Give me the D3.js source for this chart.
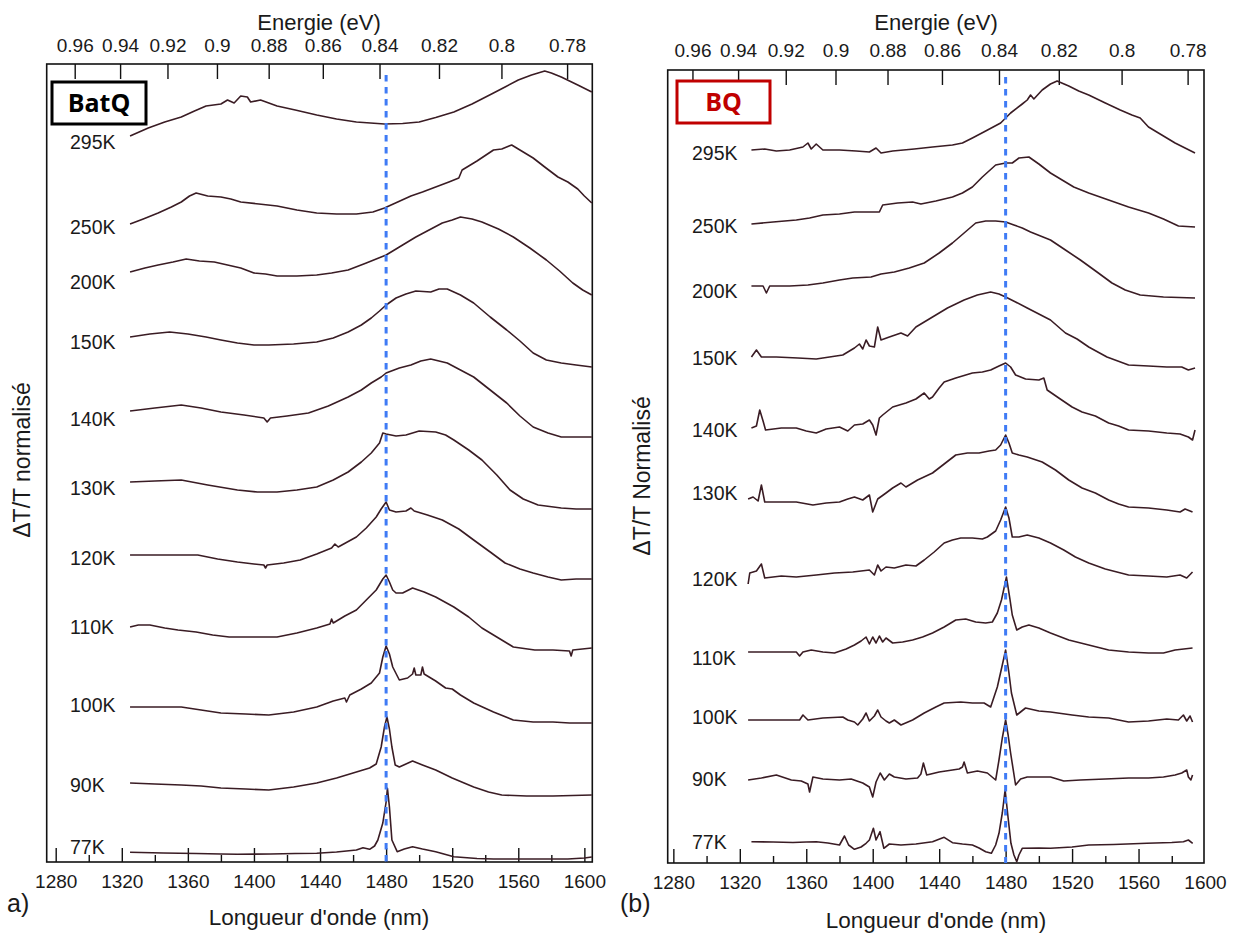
<!DOCTYPE html>
<html><head><meta charset="utf-8">
<script src="https://cdn.jsdelivr.net/npm/d3@7"></script>
<style>
body{margin:0;background:#fff}
svg{display:block}
text{font-family:"Liberation Sans",Arial,sans-serif;fill:#1a1a1a}
</style>
</head><body>
<svg id="c" width="1234" height="937"></svg>
<script>
// ---------- axis ticks ----------
const wavelengthTicks = [1280,1320,1360,1400,1440,1480,1520,1560,1600];
const wavelengthMinor = [1300,1340,1380,1420,1460,1500,1540,1580];
const energyTicks = [0.96,0.94,0.92,0.9,0.88,0.86,0.84,0.82,0.8,0.78];
const temperatures = ["295K","250K","200K","150K","140K","130K","120K","110K","100K","90K","77K"];
const markerWavelength = 1480;

// label levels (ΔT/T normalisé, décalé)
const batqLabelLevels = [72.0,63.5,58.0,52.0,44.3,37.4,30.4,23.5,15.7,7.7,1.5];
const bqLabelLevels = [71.0,63.7,57.2,50.5,43.3,37.0,28.4,20.5,14.6,8.4,2.1];

// ---------- BatQ spectra [wavelength nm, ΔT/T normalised + offset] ----------
const batq295 = [[1325,72.6],[1336,73.4],[1346,74.0],[1356,74.5],[1364,75.1],[1371,75.6],[1380,75.8],[1384,76.2],[1388,75.9],[1392,76.6],[1396,76.5],[1398,76.0],[1404,76.2],[1414,75.6],[1425,75.2],[1438,74.7],[1450,74.3],[1462,74.0],[1479,73.8],[1490,73.85],[1500,74.0],[1510,74.45],[1521,75.0],[1532,75.8],[1545,76.9],[1552,77.5],[1560,78.2],[1568,78.7],[1576,79.1],[1580,78.9],[1586,78.5],[1596,77.7],[1604.5,77.0]];
const batq250 = [[1325,63.8],[1333,64.3],[1342,64.9],[1350,65.5],[1356,66.0],[1361,66.6],[1365,66.9],[1372,66.6],[1380,66.5],[1386,66.3],[1392,66.0],[1403,65.8],[1414,65.6],[1426,65.2],[1438,64.9],[1450,64.8],[1462,64.8],[1472,65.0],[1479,65.4],[1487,66.0],[1495,66.6],[1502,67.0],[1510,67.5],[1518,68.0],[1524,68.4],[1526,69.2],[1535,70.1],[1545,71.2],[1550,71.3],[1556,71.7],[1562,71.1],[1569,70.4],[1576,69.5],[1584,68.5],[1590,68.0],[1596,67.3],[1600,66.6],[1604.5,65.9]];
const batq200 = [[1325,59.0],[1334,59.4],[1342,59.7],[1351,60.0],[1359,60.3],[1367,60.1],[1376,60.0],[1384,59.7],[1392,59.4],[1400,58.9],[1407,58.8],[1414,58.6],[1426,58.6],[1438,58.7],[1447,58.9],[1457,59.2],[1468,59.9],[1480,60.7],[1489,61.6],[1498,62.5],[1506,63.2],[1514,63.9],[1520,64.2],[1525,64.5],[1532,64.3],[1538,64.0],[1548,63.3],[1557,62.5],[1567,61.4],[1577,60.2],[1585,59.1],[1593,57.9],[1599,57.2],[1604.5,56.7]];
const batq150 = [[1325,52.5],[1337,52.8],[1349,53.0],[1360,52.8],[1371,52.5],[1380,52.2],[1390,51.9],[1400,51.7],[1409,51.7],[1424,51.8],[1438,52.0],[1448,52.4],[1457,53.0],[1465,53.7],[1471,54.4],[1476,55.1],[1480,55.7],[1486,56.4],[1492,56.8],[1498,57.1],[1507,57.0],[1512,57.3],[1517,57.3],[1525,56.7],[1533,55.9],[1543,54.5],[1553,53.2],[1561,52.1],[1569,50.9],[1577,50.2],[1586,49.9],[1595,49.7],[1604.5,49.5]];
const batq140 = [[1325,45.1],[1340,45.4],[1356,45.7],[1368,45.4],[1380,45.0],[1394,44.7],[1406,44.4],[1408,44.0],[1410,44.4],[1420,44.6],[1433,44.9],[1445,45.6],[1457,46.5],[1465,47.2],[1471,47.9],[1477,48.5],[1480,48.9],[1488,49.4],[1495,49.7],[1501,50.1],[1507,50.3],[1512,50.1],[1517,49.9],[1525,49.2],[1533,48.5],[1543,47.2],[1553,45.9],[1561,44.6],[1569,43.5],[1578,42.9],[1586,42.5],[1595,42.5],[1604.5,42.5]];
const batq130 = [[1325,38.0],[1340,38.1],[1356,38.2],[1372,37.7],[1390,37.2],[1402,37.0],[1414,37.0],[1426,37.2],[1438,37.5],[1448,38.2],[1457,39.0],[1465,40.0],[1471,40.9],[1476,41.9],[1478,42.9],[1480,42.8],[1486,42.6],[1492,42.7],[1500,43.1],[1510,43.0],[1516,42.7],[1521,42.2],[1530,41.2],[1538,40.2],[1547,38.7],[1555,37.2],[1563,36.3],[1572,35.7],[1586,35.4],[1595,35.3],[1604.5,35.3]];
const batq120 = [[1325,30.7],[1345,30.7],[1366,30.7],[1378,30.3],[1390,30.0],[1400,29.8],[1406,29.7],[1407,29.4],[1408,29.7],[1418,29.9],[1428,30.2],[1438,30.8],[1447,31.4],[1449,31.8],[1451,31.5],[1462,32.5],[1468,33.4],[1474,34.5],[1477,35.3],[1480,36.0],[1482,35.2],[1486,35.0],[1492,35.1],[1495,35.4],[1497,35.1],[1505,34.7],[1514,34.2],[1524,33.3],[1533,32.2],[1543,31.0],[1552,29.9],[1561,29.3],[1569,28.9],[1578,28.5],[1586,28.2],[1595,28.3],[1604.5,28.3]];
const batq110 = [[1325,23.5],[1330,23.7],[1337,23.7],[1346,23.4],[1354,23.2],[1365,23.0],[1375,22.7],[1385,22.5],[1400,22.5],[1414,22.5],[1426,22.9],[1438,23.4],[1446,23.8],[1447,24.3],[1448,23.9],[1455,24.6],[1462,25.2],[1468,26.2],[1474,27.2],[1478,28.3],[1480,28.7],[1482,28.0],[1484,27.2],[1486,26.9],[1490,26.9],[1496,27.4],[1503,27.0],[1510,26.5],[1521,25.5],[1530,24.5],[1538,23.4],[1548,22.4],[1557,21.5],[1570,21.2],[1581,21.2],[1591,21.1],[1592,20.6],[1593,21.2],[1604.5,21.4]];
const batq100 = [[1325,15.5],[1340,15.5],[1356,15.5],[1368,15.2],[1380,14.9],[1395,14.8],[1409,14.7],[1424,15.0],[1438,15.5],[1448,16.1],[1455,16.4],[1456,16.0],[1458,16.7],[1465,17.3],[1471,17.9],[1476,18.9],[1478,20.5],[1480,21.6],[1482,20.8],[1484,19.5],[1488,18.2],[1493,18.4],[1496,18.8],[1497,19.4],[1498,18.7],[1501,18.7],[1502,19.5],[1503,18.8],[1510,18.1],[1516,17.4],[1520,17.3],[1525,16.7],[1533,15.9],[1545,15.0],[1557,14.2],[1569,14.0],[1581,14.0],[1591,13.9],[1604.5,13.9]];
const batq90 = [[1325,7.9],[1340,7.8],[1356,7.7],[1368,7.6],[1380,7.4],[1395,7.3],[1409,7.2],[1424,7.5],[1438,7.9],[1450,8.4],[1462,9.0],[1470,9.4],[1474,9.8],[1477,11.5],[1479,13.5],[1480.5,14.5],[1482,13.3],[1483.5,11.5],[1485.5,9.7],[1488,9.5],[1492,9.8],[1496,10.1],[1502,9.7],[1510,9.2],[1520,8.4],[1533,7.5],[1542,7.0],[1550,6.7],[1565,6.6],[1581,6.6],[1604.5,6.7]];
const batq77 = [[1325,0.97],[1345,0.9],[1365,0.85],[1380,0.8],[1390,0.77],[1410,0.8],[1425,0.85],[1438,0.87],[1450,1.0],[1462,1.2],[1466,1.43],[1470,1.27],[1473,1.6],[1475,2.2],[1478,3.9],[1480,6.0],[1480.8,7.37],[1482,5.5],[1483.5,2.2],[1486.7,1.03],[1491,1.3],[1496,1.53],[1502,1.3],[1510,1.03],[1521,0.53],[1535,0.35],[1545,0.3],[1570,0.3],[1590,0.3],[1600,0.4],[1604.5,0.5]];

// ---------- BQ spectra ----------
const bq295 = [[1327,71.3],[1335,71.4],[1342,71.2],[1350,71.3],[1358,71.6],[1361,72.0],[1363,71.4],[1366,71.9],[1370,71.3],[1380,71.3],[1390,71.2],[1398,71.1],[1402,71.5],[1405,71.0],[1412,71.2],[1425,71.4],[1436,71.6],[1448,71.8],[1454,72.0],[1460,72.5],[1468,73.2],[1477,74.0],[1483,75.0],[1490,75.9],[1493,76.3],[1495,76.8],[1497,76.4],[1502,77.3],[1507,77.9],[1511,78.2],[1518,77.7],[1524,77.2],[1530,76.8],[1540,76.0],[1549,75.3],[1556,74.8],[1561,74.5],[1566,73.6],[1574,72.8],[1582,72.0],[1588,71.5],[1594,71.0]];
const bq250 = [[1327,63.9],[1340,64.1],[1354,64.3],[1362,64.5],[1370,64.8],[1380,64.9],[1389,65.1],[1397,65.1],[1404,65.1],[1406,65.8],[1415,66.0],[1424,66.1],[1429,65.9],[1438,66.2],[1448,66.6],[1454,67.0],[1460,67.6],[1466,68.6],[1474,69.8],[1480,70.0],[1484,70.0],[1488,70.5],[1494,70.6],[1500,69.9],[1507,69.0],[1514,68.3],[1521,67.6],[1530,67.0],[1542,66.3],[1554,65.6],[1566,65.0],[1575,64.4],[1584,63.7],[1594,63.6]];
const bq200 = [[1327,57.7],[1334,57.7],[1336,57.0],[1338,57.7],[1350,57.7],[1361,57.8],[1370,58.0],[1380,58.3],[1388,58.5],[1399,58.6],[1405,58.9],[1413,59.1],[1422,59.5],[1431,60.0],[1440,61.0],[1448,62.0],[1455,63.0],[1462,64.0],[1468,64.2],[1474,64.2],[1480,64.1],[1485,63.8],[1490,63.5],[1495,63.1],[1507,62.3],[1516,61.3],[1525,60.3],[1535,59.1],[1544,58.0],[1552,57.3],[1561,56.8],[1575,56.6],[1594,56.5]];
const bq150 = [[1327,50.6],[1330,51.3],[1333,50.6],[1342,50.6],[1355,50.5],[1366,50.4],[1374,50.6],[1382,50.8],[1386,51.2],[1389,51.5],[1392,51.9],[1394,51.4],[1396,52.3],[1398,51.7],[1401,51.6],[1403,53.6],[1405,52.3],[1410,52.6],[1417,53.0],[1421,52.7],[1426,53.6],[1436,54.6],[1445,55.5],[1455,56.3],[1463,56.8],[1471,57.1],[1476,56.9],[1480,56.6],[1486,56.1],[1493,55.5],[1500,54.9],[1507,54.3],[1516,53.0],[1523,52.4],[1530,51.6],[1541,50.6],[1554,49.8],[1566,49.7],[1577,49.6],[1586,49.6],[1590,49.3],[1594,49.5]];
const bq140 = [[1327,43.5],[1330,43.7],[1332,45.3],[1334,44.2],[1335.5,43.3],[1345,43.5],[1354,43.5],[1360,43.2],[1366,43.0],[1372,43.4],[1380,43.6],[1385,43.2],[1389,43.8],[1394,43.9],[1398,44.3],[1400,43.8],[1402,42.8],[1404,44.5],[1406,44.8],[1412,45.6],[1420,46.0],[1426,46.4],[1431,47.0],[1434,46.4],[1436,46.6],[1440,47.5],[1443,48.1],[1450,48.5],[1460,49.0],[1466,49.1],[1471,49.3],[1476,49.7],[1480,50.0],[1483,49.6],[1486,48.8],[1492,48.4],[1500,48.3],[1503,48.5],[1505,47.3],[1512,46.5],[1520,45.6],[1526,45.1],[1534,44.7],[1542,44.0],[1548,43.7],[1554,43.3],[1566,43.2],[1577,43.0],[1585,42.9],[1590,42.6],[1592.5,42.3],[1594,43.3]];
const bq130 = [[1325,36.4],[1328,36.6],[1331,36.2],[1333,37.8],[1335,36.1],[1345,36.1],[1354,36.1],[1364,35.8],[1372,36.0],[1380,36.1],[1385,36.4],[1389,36.6],[1394,36.3],[1398,36.8],[1400,35.1],[1403,36.4],[1408,37.0],[1412,37.5],[1417,38.0],[1420,37.6],[1427,38.3],[1436,39.0],[1443,39.9],[1450,40.8],[1457,41.0],[1464,41.0],[1470,41.2],[1474,41.3],[1477,41.8],[1480,42.8],[1482,42.0],[1484,41.0],[1488,40.8],[1493,40.6],[1502,40.1],[1510,39.3],[1518,38.3],[1526,37.5],[1534,37.0],[1542,36.3],[1548,35.9],[1554,35.6],[1566,35.5],[1577,35.3],[1585,35.1],[1588,35.4],[1592.5,35.1]];
const bq120 = [[1325,27.9],[1326,29.0],[1330,29.2],[1333,29.9],[1335,28.5],[1345,28.7],[1354,28.6],[1366,28.8],[1377,29.0],[1388,29.1],[1398,29.3],[1401,28.8],[1403,29.8],[1405,29.2],[1408,29.6],[1413,29.5],[1420,29.8],[1426,29.7],[1431,30.3],[1437,31.1],[1443,32.0],[1448,32.3],[1453,32.5],[1460,32.5],[1466,32.4],[1469,32.6],[1474,33.2],[1477,34.3],[1480,35.6],[1482,34.5],[1484,32.6],[1488,32.6],[1493,32.8],[1500,32.5],[1507,32.0],[1515,31.3],[1522,30.6],[1530,30.0],[1540,29.4],[1554,28.8],[1566,28.7],[1577,28.6],[1585,28.8],[1589,28.5],[1592.5,29.1]];
const bq110 = [[1325,21.1],[1340,21.1],[1354,21.1],[1356,20.7],[1358,21.1],[1363,21.3],[1370,21.1],[1377,21.0],[1384,21.4],[1389,21.8],[1393,22.2],[1396,22.6],[1398,21.9],[1400,22.6],[1402,22.0],[1404,22.7],[1406,22.1],[1408,22.5],[1412,22.0],[1418,22.1],[1424,22.3],[1430,22.6],[1436,23.0],[1443,23.6],[1450,24.3],[1456,24.4],[1462,24.1],[1468,24.0],[1472,24.1],[1475,25.0],[1477.5,26.3],[1480.5,28.6],[1482.5,26.5],[1484,24.8],[1486.7,23.3],[1490,23.6],[1494,23.8],[1500,23.5],[1507,23.0],[1518,22.3],[1530,21.8],[1542,21.3],[1554,21.1],[1566,21.0],[1575,21.0],[1582,21.3],[1592.5,21.5]];
const bq100 = [[1325,14.3],[1340,14.3],[1356,14.3],[1358,14.8],[1361,14.3],[1370,14.5],[1382,14.6],[1385,14.3],[1389,14.1],[1391,13.8],[1394,14.4],[1396,15.0],[1398,14.2],[1401,14.7],[1403,15.3],[1405,14.6],[1408,14.2],[1410,14.0],[1413,14.3],[1417,13.8],[1424,14.3],[1431,15.0],[1438,15.6],[1443,16.0],[1453,16.1],[1460,16.0],[1467,16.0],[1471,15.6],[1475,17.6],[1478,19.8],[1480,21.3],[1482,19.0],[1483.5,17.0],[1486.7,14.8],[1492,15.5],[1500,15.2],[1507,15.1],[1520,14.8],[1530,14.6],[1542,14.5],[1554,14.1],[1566,14.2],[1577,14.4],[1584,14.3],[1587,14.8],[1589,14.2],[1591,14.7],[1592.5,14.1]];
const bq90 = [[1325,8.3],[1333,8.5],[1342,8.8],[1351,8.3],[1357,8.2],[1361,7.9],[1362,7.1],[1364,8.6],[1370,8.4],[1380,8.3],[1387,8.4],[1394,8.0],[1398,7.6],[1400,6.6],[1402,8.1],[1404.5,9.0],[1407,8.3],[1410,8.9],[1413,8.6],[1420,8.4],[1427,8.5],[1429,8.9],[1430.5,10.0],[1432.5,8.8],[1440,9.1],[1448,9.3],[1452,9.4],[1454,9.6],[1455,10.1],[1457,9.0],[1463,9.2],[1469,9.0],[1474,8.3],[1476,10.3],[1478,12.5],[1480,14.3],[1481.5,12.8],[1483,11.0],[1486,7.8],[1489,8.4],[1493,8.6],[1500,8.6],[1507,8.6],[1515,8.2],[1525,8.3],[1540,8.4],[1554,8.5],[1566,8.5],[1575,8.6],[1582,8.8],[1586,9.0],[1589,9.3],[1590,8.6],[1591.5,8.3],[1592.5,8.8]];
const bq77 = [[1327,2.13],[1340,2.1],[1352,2.05],[1360,2.1],[1366,2.13],[1373,2.0],[1380,1.8],[1383,2.7],[1385.5,1.8],[1389,1.37],[1393,1.6],[1396,1.97],[1398,2.3],[1400.4,3.47],[1402,2.3],[1404.4,3.13],[1406.7,1.47],[1410,1.9],[1417,1.8],[1426,1.9],[1436,2.13],[1443,2.57],[1448,2.03],[1454,1.9],[1460,1.8],[1464,1.5],[1468,1.13],[1471.4,0.97],[1474,1.8],[1476,2.97],[1478,5.0],[1479.7,7.3],[1481.5,4.5],[1483.2,1.97],[1485,0.8],[1486.7,0.13],[1488,0.8],[1490,1.47],[1500,1.5],[1507,1.47],[1520,1.6],[1530,1.8],[1545,1.85],[1565,1.97],[1580,2.05],[1587,2.13],[1590,2.3],[1592.6,1.97]];

const batqSeries = [batq295,batq250,batq200,batq150,batq140,batq130,batq120,batq110,batq100,batq90,batq77];
const bqSeries = [bq295,bq250,bq200,bq150,bq140,bq130,bq120,bq110,bq100,bq90,bq77];

// ---------- drawing ----------
const HC = 1239.84; // eV·nm
const svg = d3.select("#c");
const defs = svg.append("defs");

function drawPanel(cfg) {
  const g = svg.append("g");
  const x = d3.scaleLinear().domain(cfg.xDomain).range([cfg.left, cfg.right]);
  const y = d3.scaleLinear().domain(cfg.yDomain).range([cfg.bottom, cfg.top]);

  defs.append("clipPath").attr("id", "clip-" + cfg.id).append("rect")
    .attr("x", cfg.left).attr("y", cfg.top)
    .attr("width", cfg.right - cfg.left).attr("height", cfg.bottom - cfg.top);

  // bottom axis
  const minorG = g.append("g").attr("transform", `translate(0,${cfg.bottom})`)
    .call(d3.axisBottom(x).tickValues(wavelengthMinor).tickSize(-7).tickSizeOuter(0).tickFormat(""));
  const majorG = g.append("g").attr("transform", `translate(0,${cfg.bottom})`)
    .call(d3.axisBottom(x).tickValues(wavelengthTicks).tickSize(-14).tickSizeOuter(0).tickPadding(13).tickFormat(d3.format("d")));
  // top axis (energy)
  const topG = g.append("g").attr("transform", `translate(0,${cfg.top})`)
    .call(d3.axisTop(x).tickValues(energyTicks.map(e => HC / e)).tickSize(-15).tickSizeOuter(0)
      .tickPadding(cfg.topPad).tickFormat((d, i) => String(energyTicks[i])));
  [minorG, majorG, topG].forEach(a => {
    a.select(".domain").remove();
    a.selectAll(".tick line").attr("stroke", "#111").attr("stroke-width", 1.4);
    a.selectAll(".tick text").style("font-family", '"Liberation Sans",Arial,sans-serif')
      .style("font-size", "19px").attr("fill", "#1a1a1a");
  });
  majorG.selectAll(".tick").filter(d => d > cfg.xDomain[1]).select("line").remove();

  // frame
  g.append("rect").attr("x", cfg.left).attr("y", cfg.top)
    .attr("width", cfg.right - cfg.left).attr("height", cfg.bottom - cfg.top)
    .attr("fill", "none").attr("stroke", "#111").attr("stroke-width", 1.6);

  // curves
  const line = d3.line().x(d => x(d[0])).y(d => y(d[1]));
  const cg = g.append("g").attr("clip-path", `url(#clip-${cfg.id})`);
  cg.selectAll("path.curve").data(cfg.series).join("path").attr("class", "curve")
    .attr("d", line).attr("fill", "none").attr("stroke", "#3a1c24")
    .attr("stroke-width", 1.6).attr("stroke-linejoin", "round");

  // dashed marker
  g.append("line").attr("x1", x(markerWavelength)).attr("x2", x(markerWavelength))
    .attr("y1", cfg.dashTop).attr("y2", cfg.bottom)
    .attr("stroke", "#3f7bf5").attr("stroke-width", 3).attr("stroke-dasharray", "6.5,5.5");

  // temperature labels
  g.selectAll("text.temp").data(temperatures).join("text").attr("class", "temp")
    .attr("x", cfg.labelX).attr("y", (d, i) => y(cfg.labelLevels[i])).attr("dy", "0.36em")
    .style("font-size", "19.5px").text(d => d);

  // legend box
  g.append("rect").attr("x", cfg.legend.x).attr("y", cfg.legend.y)
    .attr("width", cfg.legend.w).attr("height", cfg.legend.h)
    .attr("fill", "#fff").attr("stroke", cfg.legend.color).attr("stroke-width", 3);
  g.append("text").attr("x", cfg.legend.x + cfg.legend.w / 2).attr("y", cfg.legend.y + cfg.legend.h / 2)
    .attr("dy", "0.36em").attr("text-anchor", "middle")
    .style("font-family", '"Open Sans","Liberation Sans",sans-serif').style("font-weight", "bold")
    .style("font-size", "25px").style("fill", cfg.legend.color).text(cfg.legend.text);

  // titles
  g.append("text").attr("x", cfg.titleX).attr("y", 22).attr("dy", "0.36em").attr("text-anchor", "middle")
    .style("font-size", "22px").text("Energie (eV)");
  g.append("text").attr("x", cfg.titleX).attr("y", cfg.xTitleY).attr("dy", "0.36em").attr("text-anchor", "middle")
    .style("font-size", "22.5px").text("Longueur d'onde (nm)");
  g.append("text").attr("transform", `translate(${cfg.yTitleX},${cfg.yTitleY}) rotate(-90)`)
    .attr("text-anchor", "middle").attr("dy", "0.36em")
    .style("font-size", "23px").text(cfg.yTitle);
  g.append("text").attr("x", cfg.letterX).attr("y", 903).attr("dy", "0.36em")
    .style("font-size", "25px").text(cfg.letter);
}

drawPanel({
  id: "a", series: batqSeries, labelLevels: batqLabelLevels,
  xDomain: [1274.55, 1604.8], yDomain: [0, 79.8],
  left: 46.7, right: 592.3, top: 64, bottom: 862, topPad: 12, dashTop: 75,
  labelX: 70, titleX: 319, xTitleY: 917, yTitleX: 22, yTitleY: 460,
  yTitle: "ΔT/T normalisé", letter: "a)", letterX: 7,
  legend: {x: 52, y: 82, w: 94, h: 42, color: "#000", text: "BatQ"}
});
drawPanel({
  id: "b", series: bqSeries, labelLevels: bqLabelLevels,
  xDomain: [1276.6, 1599.4], yDomain: [0, 79.3],
  left: 667.7, right: 1204, top: 70, bottom: 863, topPad: 13, dashTop: 77,
  labelX: 692, titleX: 936, xTitleY: 920, yTitleX: 642, yTitleY: 476,
  yTitle: "ΔT/T Normalisé", letter: "(b)", letterX: 620,
  legend: {x: 677, y: 81, w: 93, h: 42, color: "#c00000", text: "BQ"}
});
</script>
</body></html>
